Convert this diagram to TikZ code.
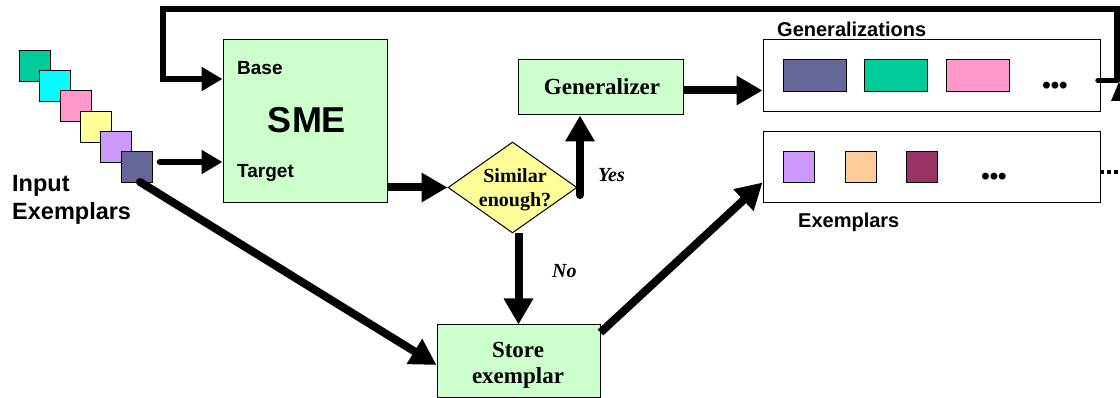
\documentclass[tikz,border=0pt]{standalone}
\usepackage{fontspec}
\setmainfont{Liberation Serif}
\setsansfont{Liberation Sans}
\usetikzlibrary{arrows.meta,shapes.geometric}
\definecolor{boxgreen}{HTML}{CCFFCC}
\definecolor{dyellow}{HTML}{FFFF99}
\definecolor{cteal}{HTML}{00CC99}
\definecolor{ccyan}{HTML}{00FFFF}
\definecolor{cpink}{HTML}{FF99CC}
\definecolor{cyel}{HTML}{FFFF99}
\definecolor{clav}{HTML}{CC99FF}
\definecolor{cslate}{HTML}{666699}
\definecolor{cpeach}{HTML}{FFCC99}
\definecolor{cplum}{HTML}{993366}
\newcommand\fsz[1]{\fontsize{#1}{#1}\selectfont}
\begin{document}
\begin{tikzpicture}[x=1pt,y=-1pt,
  box/.style={draw, line width=1pt, fill=boxgreen, inner sep=0pt},
  store/.style={draw, line width=1pt, fill=white, inner sep=0pt},
  sq/.style={draw, line width=1pt, minimum width=31pt, minimum height=31pt, inner sep=0pt},
  grect/.style={draw, line width=1pt, minimum width=63pt, minimum height=32pt, inner sep=0pt},
  flow/.style={line width=8pt, -{Triangle[length=26pt,width=28pt]}},
  feed/.style={line width=6.5pt, -{Triangle[length=21pt,width=23pt]}},
  sanslab/.style={font=\sffamily\bfseries, inner sep=0pt},
  serlab/.style={font=\rmfamily\bfseries, inner sep=0pt},
]
\useasboundingbox (0,0) rectangle (1120,398);

% input exemplar squares
\node[sq, fill=cteal]  (in1) at (35,66) {};
\node[sq, fill=ccyan]  (in2) at (55,86) {};
\node[sq, fill=cpink]  (in3) at (76,106) {};
\node[sq, fill=cyel]   (in4) at (96,127) {};
\node[sq, fill=clav]   (in5) at (116,147) {};
\node[sq, fill=cslate] (in6) at (136.5,167.5) {};
\node[sanslab, anchor=base west, font=\sffamily\bfseries\fsz{23.5}] (tin1) at (12,192) {Input};
\node[sanslab, anchor=base west, font=\sffamily\bfseries\fsz{23.5}] (tin2) at (12,220) {Exemplars};

% SME
\node[box, minimum width=164pt, minimum height=163pt] (sme) at (305,121.5) {};
\node[sanslab, anchor=base west, font=\sffamily\bfseries\fsz{19}] (tbase) at (237,75) {Base};
\node[sanslab, anchor=base, font=\sffamily\bfseries\fsz{36}] (tsme) at (307,133) {SME};
\node[sanslab, anchor=base west, font=\sffamily\bfseries\fsz{19}] (ttarget) at (237,178) {Target};

% diamond
\node[draw, line width=1pt, fill=dyellow, diamond, minimum width=129pt, minimum height=91pt, inner sep=0pt] (dia) at (512.5,187.5) {};
\node[serlab, anchor=base, font=\rmfamily\bfseries\fsz{20}] (tsim1) at (515,183) {Similar};
\node[serlab, anchor=base, font=\rmfamily\bfseries\fsz{20}] (tsim2) at (515,207) {enough?};

% generalizer
\node[box, minimum width=165pt, minimum height=55pt] (gen) at (600.5,87.5) {};
\node[serlab, anchor=base, font=\rmfamily\bfseries\fsz{23}] (tgen) at (602,95) {Generalizer};

% store exemplar
\node[box, minimum width=163pt, minimum height=72pt] (st) at (518.5,361) {};
\node[serlab, anchor=base, font=\rmfamily\bfseries\fsz{23}] (tst1) at (518,357) {Store};
\node[serlab, anchor=base, font=\rmfamily\bfseries\fsz{23}] (tst2) at (518,383) {exemplar};

% generalizations box
\node[store, minimum width=337pt, minimum height=72pt] (gens) at (931.5,76) {};
\node[sanslab, anchor=base west, font=\sffamily\bfseries\fsz{20}] (tgens) at (777,37) {Generalizations};
\node[grect, fill=cslate] (g1) at (814.5,76) {};
\node[grect, fill=cteal]  (g2) at (896,76) {};
\node[grect, fill=cpink]  (g3) at (978,76) {};
\node[sanslab, font=\sffamily\bfseries\fsz{24}] (gdots) at (1055,88) {•••};

% exemplars box
\node[store, minimum width=337pt, minimum height=71pt] (exs) at (931.5,167.5) {};
\node[sanslab, anchor=base west, font=\sffamily\bfseries\fsz{20}] (texs) at (798,228) {Exemplars};
\node[sq, fill=clav]   (e1) at (799,167.5) {};
\node[sq, fill=cpeach] (e2) at (861,167.5) {};
\node[sq, fill=cplum]  (e3) at (921.5,167.5) {};
\node[sanslab, font=\sffamily\bfseries\fsz{24}] (edots) at (994,179) {•••};

% labels
\node[serlab, anchor=base west, font=\rmfamily\bfseries\itshape\fsz{20}] (tyes) at (598,182) {Yes};
\node[serlab, anchor=base west, font=\rmfamily\bfseries\itshape\fsz{20}] (tno) at (552,278) {No};

% connectors
\coordinate (instart) at (160,162);
\draw[feed, line cap=round] (instart) -- (instart -| sme.west);

\coordinate (loopR) at (1117.5,80.5);
\coordinate (loopTop) at (1117.5,9);
\coordinate (loopL) at (163,9);
\coordinate (baseIn) at (163,79);
\draw[line width=5.5pt, line cap=round] (1098,80.5) -- (loopR);
\draw[feed, line join=miter] (loopR) -- (loopTop) -- (loopL) -- (baseIn) -- (baseIn -| sme.west);
\fill (1119,82) -- (1127,101) -- (1111,101) -- cycle;
\draw[line width=4pt, dash pattern=on 4pt off 3pt] (1100,172) -- (1120,172);

\draw[flow] (sme.east |- dia.west) -- (dia.west);
\coordinate (ystart) at (580,195);
\draw[flow, line cap=round] (ystart) -- (ystart |- gen.south);
\draw[flow] ([yshift=-3pt]gen.east) -- ([yshift=-3pt]gen.east -| gens.west);
\draw[flow] (dia.south -| st.north) -- (st.north);
\coordinate (dstart) at (140,182);
\draw[flow, line cap=round] (dstart) -- ([yshift=-4pt]st.west);
\draw[flow] ([yshift=-8pt]st.north east) -- ([yshift=-15pt]exs.west);
\end{tikzpicture}
\end{document}
